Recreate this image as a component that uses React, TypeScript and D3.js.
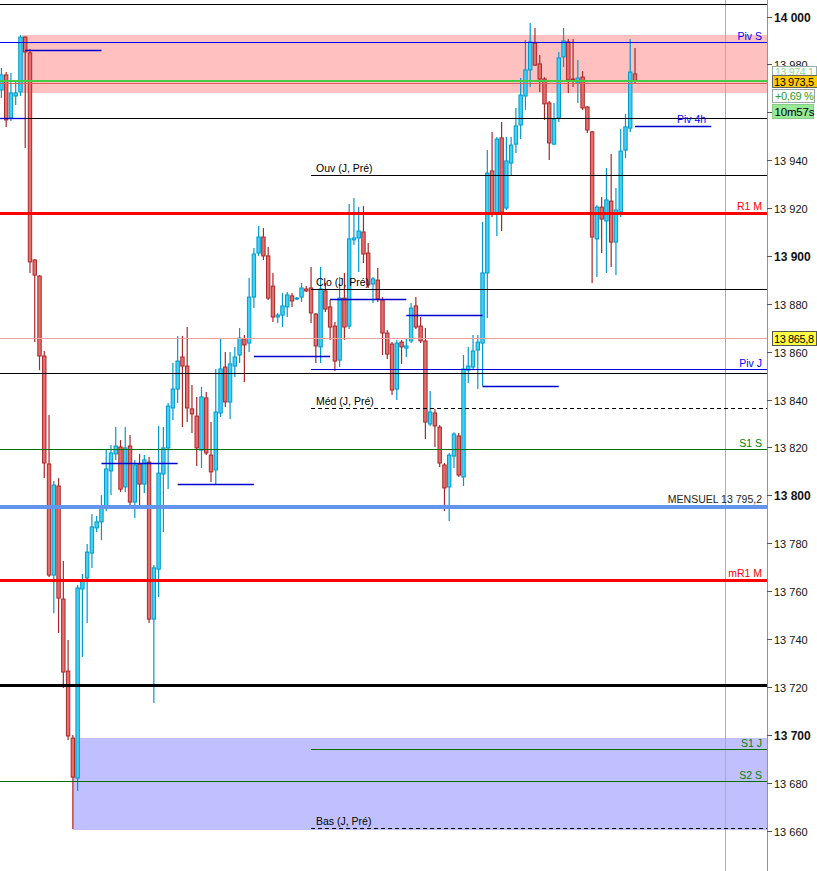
import React from "react";
import * as d3 from "d3";

const W = 817;
const H = 871;

// ---- Candles (15 min) ----
const opens = [13969.5,13975.8,13957.8,13967.0,13968.7,13991.6,13985.0,13898.5,13891.8,13858.4,13813.3,13766.9,13804.1,13756.9,13726.8,13698.8,13682.1,13761.1,13765.7,13776.1,13786.6,13789.1,13795.3,13810.4,13817.5,13820.4,13803.7,13820.8,13797.4,13813.3,13804.9,13814.1,13748.5,13769.4,13809.1,13820.0,13836.7,13844.6,13858.0,13854.2,13836.3,13833.3,13819.1,13840.9,13817.0,13810.8,13834.6,13853.8,13839.2,13854.2,13858.8,13865.5,13863.8,13883.0,13901.4,13908.1,13900.2,13887.6,13874.7,13875.5,13878.9,13883.5,13882.2,13883.0,13886.4,13886.8,13875.9,13862.2,13885.6,13878.9,13870.9,13856.7,13882.6,13870.9,13906.9,13907.7,13910.2,13901.4,13888.5,13890.1,13881.8,13868.0,13863.4,13844.6,13864.2,13861.7,13864.7,13879.3,13870.9,13864.7,13830.0,13834.6,13828.7,13812.9,13803.7,13816.6,13825.0,13807.9,13852.5,13853.8,13860.9,13863.8,13893.1,13935.7,13918.1,13949.5,13920.2,13939.0,13946.9,13954.9,13967.0,13977.9,13989.1,13980.4,13974.1,13964.1,13946.9,13957.8,13983.3,13989.6,13974.1,13972.4,13974.9,13962.4,13952.0,13907.3,13920.6,13914.8,13923.1,13906.0,13918.5,13944.4,13953.6,13976.2];
const highs = [13978.7,13977.0,13976.6,13973.7,13992.5,13992.0,13986.6,13898.9,13892.2,13860.5,13833.8,13806.2,13807.4,13772.8,13739.8,13700.1,13762.7,13767.3,13779.9,13792.4,13791.6,13800.3,13819.5,13821.2,13828.7,13823.3,13828.7,13825.4,13815.0,13817.5,13817.0,13816.2,13771.1,13829.2,13828.7,13838.8,13855.5,13866.8,13866.8,13870.5,13846.3,13841.3,13845.5,13843.4,13830.8,13853.0,13865.9,13860.1,13860.1,13862.2,13870.1,13867.2,13891.0,13903.5,13912.7,13911.9,13903.9,13893.1,13876.4,13884.7,13885.1,13884.7,13883.0,13888.9,13887.6,13895.6,13876.4,13895.6,13888.9,13881.8,13872.6,13891.4,13893.1,13921.9,13924.4,13920.6,13921.1,13905.6,13891.4,13895.2,13883.0,13869.3,13864.2,13865.1,13865.1,13865.5,13880.5,13883.0,13874.7,13870.1,13843.8,13836.3,13829.6,13813.7,13817.9,13826.6,13826.2,13858.8,13862.2,13867.2,13867.2,13914.4,13944.4,13952.0,13949.9,13956.1,13949.9,13949.9,13962.0,13974.5,13990.4,13997.5,13995.4,13984.1,13974.9,13964.9,13964.1,13985.4,13995.4,13990.8,13990.8,13982.0,13977.4,13962.8,13952.4,13921.5,13924.8,13936.9,13942.8,13928.6,13953.2,13959.5,13990.8,13987.1];
const lows = [13966.2,13954.1,13956.6,13963.2,13967.0,13945.3,13893.1,13864.2,13852.5,13807.4,13766.1,13751.0,13742.7,13719.7,13698.0,13660.8,13676.7,13732.7,13746.9,13769.9,13784.9,13781.5,13793.6,13800.3,13815.0,13801.6,13801.6,13795.7,13790.7,13795.3,13801.2,13746.9,13713.5,13757.7,13784.9,13802.8,13831.7,13838.8,13828.7,13830.8,13826.2,13812.5,13811.6,13817.0,13805.8,13804.9,13832.9,13837.1,13832.1,13849.6,13855.5,13847.5,13860.1,13878.4,13900.2,13898.5,13881.8,13872.6,13872.2,13870.5,13874.7,13878.9,13881.8,13881.0,13885.1,13872.2,13855.5,13855.5,13876.8,13865.1,13852.1,13853.8,13865.1,13869.7,13904.8,13893.5,13897.2,13886.8,13880.5,13881.0,13858.8,13857.1,13842.1,13840.0,13855.1,13858.0,13863.8,13869.7,13863.8,13823.7,13829.2,13820.4,13812.0,13793.6,13789.5,13811.6,13807.9,13804.1,13847.1,13853.0,13844.6,13845.9,13874.3,13916.5,13908.5,13910.6,13919.4,13933.6,13943.2,13949.0,13961.2,13970.8,13979.5,13968.7,13957.0,13940.3,13946.5,13956.1,13979.1,13968.3,13970.8,13964.1,13961.2,13951.5,13888.9,13891.4,13901.4,13893.1,13895.6,13892.2,13916.5,13941.1,13952.0,13972.4];
const closes = [13975.8,13957.0,13968.3,13968.3,13991.6,13985.4,13897.7,13892.2,13858.4,13813.7,13766.9,13804.5,13757.3,13726.4,13699.7,13682.5,13761.5,13764.4,13776.5,13787.0,13789.1,13795.7,13811.2,13817.9,13820.8,13802.8,13820.0,13797.4,13812.9,13804.9,13815.0,13748.5,13769.9,13809.5,13820.0,13837.5,13844.6,13856.3,13854.2,13836.7,13834.2,13820.0,13841.3,13817.9,13810.0,13835.0,13853.0,13839.2,13855.1,13858.0,13865.9,13863.0,13883.0,13901.0,13908.1,13900.2,13882.6,13874.7,13875.5,13879.3,13883.9,13881.4,13882.6,13886.8,13885.6,13876.4,13862.6,13886.4,13878.0,13870.5,13856.3,13882.6,13870.5,13907.3,13907.7,13910.6,13901.0,13888.1,13890.6,13882.2,13868.0,13859.2,13844.2,13863.8,13862.2,13862.6,13878.4,13870.5,13864.7,13830.8,13835.0,13829.2,13813.7,13803.3,13817.0,13825.8,13808.7,13853.0,13854.2,13860.5,13864.2,13893.1,13934.8,13917.7,13949.0,13918.5,13939.9,13946.5,13954.5,13967.4,13977.9,13989.6,13979.9,13974.1,13963.7,13947.4,13957.4,13982.9,13990.0,13973.7,13973.7,13974.5,13962.0,13952.8,13908.1,13920.6,13915.6,13923.6,13906.0,13919.4,13944.0,13954.1,13977.0,13973.5];

// ---- 4h pivot steps (start candle index, value), each 16 candles long ----
const pivotStarts = [-11, 5, 21, 37, 53, 69, 85, 101, 133];
const pivotValues = [13957.8, 13985.8, 13813.7, 13804.9, 13858.0, 13882.0, 13875.5, 13845.5, 13954.1];

// ---- horizontal levels ----
const levelValues = [14005.3, 13989.4, 13973.4, 13972.3, 13957.8, 13933.6, 13918.1, 13886.0, 13865.8, 13852.8, 13851.1, 13836.3, 13819.4, 13795.2, 13764.8, 13720.6, 13694.1, 13680.8, 13661.1];
const levelLabels = ["", "Piv S", "", "", "", "Ouv (J, Pré)", "R1 M", "Clo (J, Pré)", "", "Piv J", "", "Méd (J, Pré)", "S1 S", "MENSUEL 13 795,2", "mR1 M", "", "S1 J", "S2 S", "Bas (J, Pré)"];
const levelStartIdx = [null, null, null, null, null, 65, null, 65, null, 65, null, 65, null, null, null, null, 65, null, 65];

// ---- zones ----
const zoneTop = [13992.5, 13698.7];
const zoneBottom = [13968.4, 13660.3];
const zoneStartIdx = [4.3, 15];

// ---- axis ----
const tickValues = d3.range(13660, 14001, 20);
const hiddenTicks = [13960];

// ---- tags ----
const lastPrice = 13973.5;
const prevTag = 13974.1;
const changeText = "+0,69 %";
const timerText = "10m57s";
const markerPrice = 13865.8;
const nowIdx = 152;

// styles (separate from data)
const levelStyle: { c: string; w: number; dash?: string; lc?: string; side?: string }[] = [
  { c: "#000", w: 1 },
  { c: "#0000ff", w: 1, lc: "#0000ff", side: "r" },
  { c: "#44cc44", w: 2 },
  { c: "#e06060", w: 1 },
  { c: "#000", w: 1 },
  { c: "#000", w: 1, lc: "#000", side: "l" },
  { c: "#ff0000", w: 3, lc: "#ff0000", side: "r" },
  { c: "#000", w: 1, lc: "#000", side: "l" },
  { c: "#f0a0a0", w: 1 },
  { c: "#0000dd", w: 1, lc: "#0000ff", side: "r" },
  { c: "#000", w: 1 },
  { c: "#000", w: 1, dash: "4,3", lc: "#000", side: "l" },
  { c: "#006e00", w: 1, lc: "#008000", side: "r" },
  { c: "#6495ed", w: 4, lc: "#222", side: "r" },
  { c: "#ff0000", w: 3, lc: "#ff0000", side: "r" },
  { c: "#000", w: 3 },
  { c: "#006e00", w: 1, lc: "#008000", side: "r" },
  { c: "#006e00", w: 1, lc: "#008000", side: "r" },
  { c: "#000", w: 1, dash: "4,3", lc: "#000", side: "l" },
];

const AXIS_X = 767;
const FONT = "'Liberation Sans', Arial, sans-serif";

const fmtInt = (v: number) => d3.format(",.0f")(v).replace(/,/g, " ");
const fmtDec = (v: number) => d3.format(",.1f")(v).replace(".", "#").replace(/,/g, " ").replace("#", ",");

// pixel snapping for crisp lines
const snap = (v: number, w: number) => (w % 2 === 1 ? Math.round(v - 0.5) + 0.5 : Math.round(v));

export default function App() {
  const y = d3.scaleLinear().domain([13660, 14000]).range([831, 17]);
  const x = d3.scaleLinear().domain([0, 133]).range([1.4, 635]);
  const bw = 3.4;

  return (
    <svg
      width={W}
      height={H}
      style={{ position: "absolute", left: 0, top: 0, background: "#fff", fontFamily: FONT }}
    >
      <rect x={0} y={0} width={W} height={H} fill="#fff" />
      {/* zones */}
      {zoneTop.map((t, i) => (
        <rect
          key={"z" + i}
          x={Math.round(x(zoneStartIdx[i]))}
          y={Math.round(y(t))}
          width={AXIS_X - Math.round(x(zoneStartIdx[i]))}
          height={Math.round(y(zoneBottom[i])) - Math.round(y(t))}
          fill={i === 0 ? "#ffc0c0" : "#c0c0ff"}
        />
      ))}
      {/* candles */}
      {opens.map((o, i) => {
        const c = closes[i];
        const up = c >= o;
        const stroke = up ? "#0099cc" : "#a82828";
        const fill = up ? "#3fd2f5" : "#e86e6e";
        const cx = x(i);
        const top = y(Math.max(o, c));
        const h = Math.max(1, Math.abs(y(o) - y(c)));
        return (
          <g key={"c" + i}>
            <line x1={cx} x2={cx} y1={y(highs[i])} y2={y(lows[i])} stroke={stroke} strokeWidth={1.2} />
            <rect x={cx - bw / 2} y={top} width={bw} height={h} fill={fill} stroke={stroke} strokeWidth={1} />
          </g>
        );
      })}
      {/* vertical now line */}
      <line
        x1={snap(x(nowIdx), 1)}
        x2={snap(x(nowIdx), 1)}
        y1={0}
        y2={H}
        stroke="#ff8c8c"
        strokeWidth={1}
      />
      {/* levels */}
      {levelValues.map((v, i) => {
        const s = levelStyle[i];
        const x0 = levelStartIdx[i] == null ? 0 : x(levelStartIdx[i] as number);
        const yy = snap(y(v), s.w);
        return (
          <g key={"l" + i}>
            <line x1={x0} x2={AXIS_X} y1={yy} y2={yy} stroke={s.c} strokeWidth={s.w} strokeDasharray={s.dash} />
            {levelLabels[i] && s.side === "r" && (
              <text x={762} y={yy - s.w / 2 - 2.5} textAnchor="end" fontSize={10.5} fill={s.lc}>
                {levelLabels[i]}
              </text>
            )}
            {levelLabels[i] && s.side === "l" && (
              <text x={316} y={yy - 3.5} fontSize={10.5} fill={s.lc}>
                {levelLabels[i]}
              </text>
            )}
          </g>
        );
      })}
      {/* 4h pivot steps */}
      {pivotStarts.map((s, i) => {
        const yy = snap(y(pivotValues[i]), 1);
        return (
          <line
            key={"p" + i}
            x1={Math.max(0, x(s))}
            x2={x(s + 16)}
            y1={yy}
            y2={yy}
            stroke="#0000cc"
            strokeWidth={1.3}
          />
        );
      })}
      <text x={x(149) - 5} y={y(pivotValues[pivotValues.length - 1]) - 4} textAnchor="end" fontSize={10.5} fill="#0000ff">
        Piv 4h
      </text>
      {/* axis */}
      <line x1={AXIS_X + 0.5} x2={AXIS_X + 0.5} y1={0} y2={H} stroke="#8a96a4" strokeWidth={1} />
      {tickValues.map((t) => {
        const bold = t % 100 === 0;
        const yy = snap(y(t), 1);
        return (
          <g key={"t" + t}>
            <line x1={AXIS_X} x2={AXIS_X + 5} y1={yy} y2={yy} stroke="#555" strokeWidth={1} />
            {!hiddenTicks.includes(t) && (
              <text
                x={AXIS_X + 7}
                y={yy + 4}
                fontSize={bold ? 12 : 11}
                fontWeight={bold ? "bold" : "normal"}
                fill="#111"
              >
                {fmtInt(t)}
              </text>
            )}
          </g>
        );
      })}
      {/* tags */}
      <rect x={772.5} y={66.5} width={44} height={10} fill="#fff" stroke="#9aa" strokeWidth={1} />
      <text x={775} y={76} fontSize={10.5} letterSpacing={-0.3} fill="#8ad88a">
        {fmtDec(prevTag)}
      </text>
      <rect x={772.5} y={75.5} width={45} height={12} fill="#ffcc00" stroke="#666" strokeWidth={1} />
      <text x={774} y={86} fontSize={11} letterSpacing={-0.4} fill="#000">
        {fmtDec(lastPrice)}
      </text>
      <rect x={772.5} y={89.5} width={42} height={13} fill="#fff" stroke="#9aa" strokeWidth={1} />
      <text x={775} y={100} fontSize={11} letterSpacing={-0.3} fill="#2a9a2a">
        {changeText}
      </text>
      <rect x={772.5} y={104.5} width={41} height={14} fill="#98e898" stroke="#8c8" strokeWidth={1} />
      <text x={774.5} y={115.5} fontSize={11.5} letterSpacing={-0.2} fill="#000">
        {timerText}
      </text>
      <rect
        x={772.5}
        y={snap(y(markerPrice), 1) - 7}
        width={44}
        height={14}
        fill="#ffff40"
        stroke="#555"
        strokeWidth={1}
      />
      <text x={774} y={snap(y(markerPrice), 1) + 4} fontSize={11} letterSpacing={-0.4} fill="#000">
        {fmtDec(markerPrice)}
      </text>
    </svg>
  );
}
